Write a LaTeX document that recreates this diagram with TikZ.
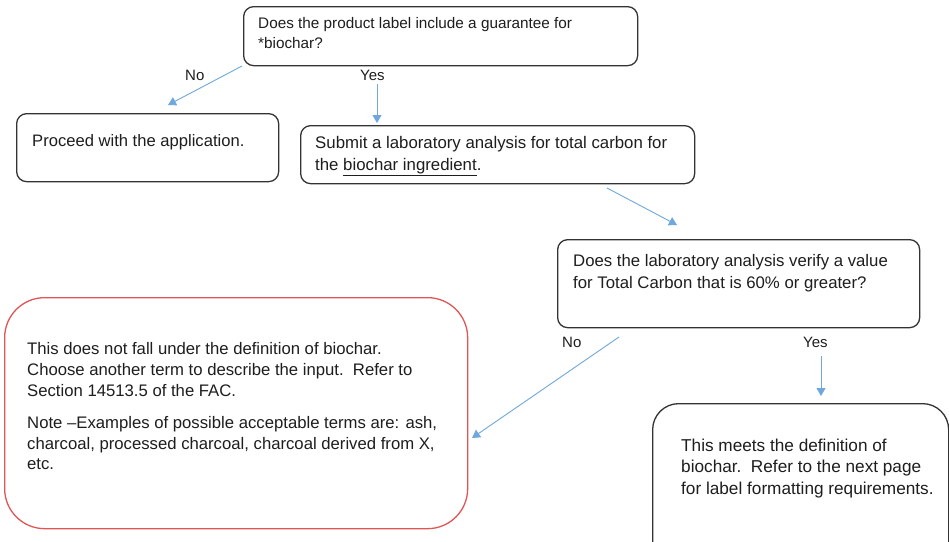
\documentclass[tikz,border=0pt]{standalone}
\usepackage{fontspec}
\setmainfont{Liberation Sans}
\usetikzlibrary{arrows.meta}
\definecolor{boxgray}{HTML}{333333}
\definecolor{textgray}{HTML}{1E1E1E}
\definecolor{arrowblue}{HTML}{6FA8DC}
\definecolor{boxred}{HTML}{E05555}
\begin{document}
\begin{tikzpicture}[x=1pt,y=-1pt,
 box/.style={draw=boxgray, line width=1.3pt, rounded corners=10pt, inner sep=0pt, anchor=north west},
 txt/.style={anchor=north west, inner sep=0pt, align=left, text=textgray},
 lbl/.style={anchor=base west, inner sep=0pt, font=\fontsize{15}{18}\selectfont, text=textgray},
 conn/.style={draw=arrowblue, line width=0.9pt, -{Triangle[length=8pt,width=9pt]}}]
\useasboundingbox[fill=white] (0,0) rectangle (949,541);

% boxes
\node[box, minimum width=394pt, minimum height=59pt] (q1) at (243,6) {};
\node[box, minimum width=262pt, minimum height=68pt] (proceed) at (16,113) {};
\node[box, minimum width=394pt, minimum height=58pt] (submit) at (300,125) {};
\node[box, minimum width=362pt, minimum height=88pt] (q2) at (557,239) {};
\node[box, draw=boxred, rounded corners=40pt, minimum width=463pt, minimum height=231pt] (notbio) at (4,297) {};
\node[box, rounded corners=26pt, minimum width=296pt, minimum height=170pt] (isbio) at (652,403) {};

% texts
\node[txt, font=\fontsize{15.3}{20}\selectfont] (q1t) at (258,17.3) {Does the product label include a guarantee for\\*biochar?};
\node[txt, font=\fontsize{16.6}{21}\selectfont] (proceedt) at (32,134.4) {Proceed with the application.};
\node[txt, font=\fontsize{16.8}{22}\selectfont] (submitt) at (315,135.8) {Submit a laboratory analysis for total carbon for\\the \underline{biochar ingredient}.};
\node[txt, font=\fontsize{16.75}{22}\selectfont] (q2t) at (573,253.8) {Does the laboratory analysis verify a value\\for Total Carbon that is 60\% or greater?};
\node[txt, font=\fontsize{16.7}{20.8}\selectfont] (notbiot) at (27,342.3) {This does not fall under the definition of biochar.\\Choose another term to describe the input.\ \ Refer to\\Section 14513.5 of the FAC.\\[11.2pt]Note --Examples of possible acceptable terms are: ash,\\charcoal, processed charcoal, charcoal derived from X,\\etc.};
\node[txt, font=\fontsize{17.2}{21.5}\selectfont] (isbiot) at (681,438.5) {This meets the definition of\\biochar.\ \ Refer to the next page\\for label formatting requirements.};

% branch labels
\node[lbl] (no1) at (185,80) {No};
\node[lbl] (yes1) at (360,80) {Yes};
\node[lbl] (no2) at (562,347) {No};
\node[lbl] (yes2) at (803,347) {Yes};

% connector end points
\coordinate (a1s) at (242,66);
\coordinate (a1e) at (168,105);
\coordinate (a2s) at (377,84);
\coordinate (a2e) at (377,123);
\coordinate (a3s) at (607,188);
\coordinate (a3e) at (677,225);
\coordinate (a4s) at (619,337);
\coordinate (a4e) at (472,438);
\coordinate (a5s) at (821,356);
\coordinate (a5e) at (821,396);

\draw[conn] (a1s) -- (a1e);
\draw[conn] (a2s) -- (a2e);
\draw[conn] (a3s) -- (a3e);
\draw[conn] (a4s) -- (a4e);
\draw[conn] (a5s) -- (a5e);
\end{tikzpicture}
\end{document}
